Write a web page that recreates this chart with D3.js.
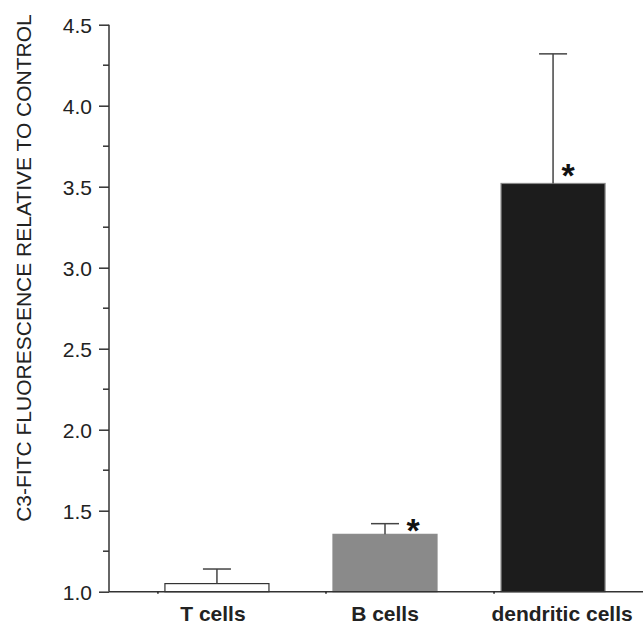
<!DOCTYPE html>
<meta charset="utf-8">
<script src="https://d3js.org/d3.v7.min.js"></script>
<style>
  body { margin: 0; background: #fff; }
  text { font-family: "Liberation Sans", Arial, sans-serif; }
</style>
<div id="screen"></div>
<script>
  // data
  var categories = ["T cells", "B cells", "dendritic cells"];
  var means = [1.05, 1.354, 3.52];
  var errUp = [1.14, 1.42, 4.32];
  var signif = [false, true, true];
  var fills = ["#ffffff", "#8a8a8a", "#1c1c1c"];
  var strokes = ["#333333", "#8a8a8a", "#888888"];
  var yTicks = [1.0, 1.5, 2.0, 2.5, 3.0, 3.5, 4.0, 4.5];
  var yMinor = [1.25, 1.75, 2.25, 2.75, 3.25, 3.75, 4.25];

  var width = 643, height = 627;
  var svg = d3.select("#screen").append("svg")
      .attr("width", width).attr("height", height);

  var axisX = 109;
  var y = d3.scaleLinear().domain([1.0, 4.5]).range([591.7, 24.7]);
  var x = d3.scaleBand().domain(categories).range([133, 637])
      .paddingInner(0.381).paddingOuter(0.19);

  var ink = "#333";
  // layout nudges for the asterisks and labels
  var starDx = [0, 28, 15], starDy = [0, -11, -15];
  var labelDx = [-4, 0, 9];

  // bars
  svg.selectAll("rect.bar").data(categories).enter().append("rect")
      .attr("class", "bar")
      .attr("x", function(d){ return x(d); })
      .attr("width", x.bandwidth())
      .attr("y", function(d,i){ return y(means[i]); })
      .attr("height", function(d,i){ return y(1.0) - y(means[i]); })
      .style("fill", function(d,i){ return fills[i]; })
      .style("stroke", function(d,i){ return strokes[i]; })
      .style("stroke-width", 1.2);

  // error bars
  var cap = 14;
  categories.forEach(function(c, i) {
      var cx = x(c) + x.bandwidth() / 2;
      var g = svg.append("g").style("stroke", "#444").style("stroke-width", 1.5);
      g.append("line").attr("x1", cx).attr("x2", cx)
          .attr("y1", y(means[i])).attr("y2", y(errUp[i]));
      g.append("line").attr("x1", cx - cap).attr("x2", cx + cap)
          .attr("y1", y(errUp[i])).attr("y2", y(errUp[i]));
      if (signif[i]) {
          svg.append("text")
              .attr("x", cx + starDx[i])
              .attr("y", y(means[i]) + starDy[i] + 19)
              .attr("text-anchor", "middle")
              .style("font-size", "34px").style("font-weight", "bold")
              .style("fill", "#111")
              .text("*");
      }
  });

  // y axis
  var yAxis = d3.axisLeft(y).tickValues(yTicks).tickSize(10).tickPadding(7)
      .tickFormat(d3.format(".1f"));
  var gy = svg.append("g").attr("transform", "translate(" + axisX + ",0)").call(yAxis);
  gy.select(".domain").remove();
  gy.append("line").attr("x1", 0).attr("x2", 0)
      .attr("y1", y(4.5)).attr("y2", y(1.0)).style("stroke", ink).style("stroke-width", 1.5);
  gy.selectAll(".tick line").style("stroke", ink).style("stroke-width", 1.5);
  gy.selectAll(".tick text").style("font-size", "21px").style("fill", "#222")
      .attr("dy", "0.36em")
      .style("font-family", "Liberation Sans, Arial, sans-serif");
  gy.selectAll("line.minor").data(yMinor).enter().append("line")
      .attr("class", "minor")
      .attr("x1", -6).attr("x2", 0)
      .attr("y1", function(d){ return y(d); }).attr("y2", function(d){ return y(d); })
      .style("stroke", ink).style("stroke-width", 1.5);

  // x axis baseline
  svg.append("line").attr("x1", axisX).attr("x2", width)
      .attr("y1", y(1.0)).attr("y2", y(1.0))
      .style("stroke", ink).style("stroke-width", 1.5);
  svg.selectAll("line.xtick").data(categories).enter().append("line")
      .attr("class", "xtick")
      .attr("x1", function(d){ return x(d) - 7; })
      .attr("x2", function(d){ return x(d) - 7; })
      .attr("y1", y(1.0)).attr("y2", y(1.0) + 2)
      .style("stroke", "#222").style("stroke-width", 1.5);

  // category labels
  svg.selectAll("text.cat").data(categories).enter().append("text")
      .attr("class", "cat")
      .attr("x", function(d,i){ return x(d) + x.bandwidth() / 2 + labelDx[i]; })
      .attr("y", 621)
      .attr("text-anchor", "middle")
      .style("font-size", "21px").style("font-weight", "bold").style("fill", "#222")
      .text(function(d){ return d; });

  // y title
  svg.append("text")
      .attr("transform", "translate(31," + 268 + ") rotate(-90)")
      .attr("text-anchor", "middle")
      .style("font-size", "21px").style("fill", "#222")
      .text("C3-FITC FLUORESCENCE RELATIVE TO CONTROL");
</script>
